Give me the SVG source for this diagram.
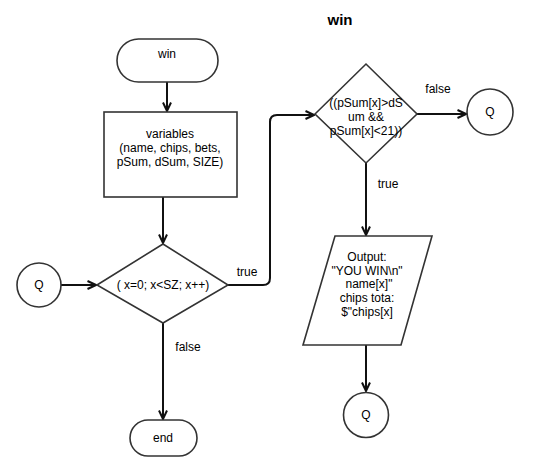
<svg xmlns="http://www.w3.org/2000/svg" width="540" height="475" viewBox="0 0 540 475">
<style>
.s{fill:#fff;stroke:#333;stroke-width:1.6}
.t{font-family:"Liberation Sans",Arial,sans-serif;font-size:12px;fill:#000;text-anchor:middle}
.c{fill:none;stroke:#111;stroke-width:2}
</style>
<defs>
<marker id="a" viewBox="0 0 10 10" refX="9.5" refY="5" markerWidth="10" markerHeight="10" markerUnits="userSpaceOnUse" orient="auto">
<path d="M1,1 L9.5,5 L1,9" fill="none" stroke="#111" stroke-width="2"/>
</marker>
</defs>
<rect width="540" height="475" fill="#fff"/>
<text x="340" y="25" class="t" style="font-weight:bold;font-size:15px">win</text>
<g id="connectors">
<path class="c" d="M167,82 V111" marker-end="url(#a)"/>
<path class="c" d="M163,197 V243" marker-end="url(#a)"/>
<path class="c" d="M61,285 H96" marker-end="url(#a)"/>
<path class="c" d="M228,285 H263 Q270,285 270,278 V122 Q270,115 277,115 H314" marker-end="url(#a)"/>
<path class="c" d="M417,114 H466" marker-end="url(#a)"/>
<path class="c" d="M366,163 V235" marker-end="url(#a)"/>
<path class="c" d="M366,345 V391" marker-end="url(#a)"/>
<path class="c" d="M163,323 V419" marker-end="url(#a)"/>
<text x="247" y="276" class="t">true</text>
<text x="438" y="93" class="t">false</text>
<text x="388" y="188" class="t">true</text>
<text x="188" y="351" class="t">false</text>
</g>
<g id="start">
<rect class="s" x="117" y="39" width="101" height="43" rx="21.5"/>
<text x="167" y="58" class="t">win</text>
</g>
<g id="variables">
<rect class="s" x="104" y="112" width="133" height="85"/>
<text x="170" y="138" class="t">variables</text>
<text x="170" y="152" class="t">(name, chips, bets,</text>
<text x="170" y="166" class="t">pSum, dSum, SIZE)</text>
</g>
<g id="loop">
<polygon class="s" points="97,285 163,244 228,285 163,323"/>
<text x="163" y="289" class="t">( x=0; x&lt;SZ; x++)</text>
</g>
<g id="q1">
<circle class="s" cx="39" cy="285" r="22"/>
<text x="39" y="289" class="t">Q</text>
</g>
<g id="cond">
<polygon class="s" points="315,114 366,64 417,114 366,163"/>
<text x="366" y="107" class="t">((pSum[x]&gt;dS</text>
<text x="366" y="121" class="t">um &amp;&amp;</text>
<text x="366" y="135" class="t">pSum[x]&lt;21))</text>
</g>
<g id="q2">
<circle class="s" cx="490" cy="112" r="23"/>
<text x="490" y="116" class="t">Q</text>
</g>
<g id="output">
<polygon class="s" points="335,236 432,236 401,345 303,345"/>
<text x="367" y="261" class="t">Output:</text>
<text x="367" y="275" class="t">"YOU WIN\n"</text>
<text x="369" y="288" class="t">name[x]"</text>
<text x="367" y="302" class="t">chips tota:</text>
<text x="367" y="316" class="t">$"chips[x]</text>
</g>
<g id="q3">
<circle class="s" cx="366" cy="415" r="22.5"/>
<text x="366" y="419" class="t">Q</text>
</g>
<g id="end">
<rect class="s" x="130" y="420" width="67" height="36" rx="18"/>
<text x="163" y="442" class="t">end</text>
</g>
</svg>
